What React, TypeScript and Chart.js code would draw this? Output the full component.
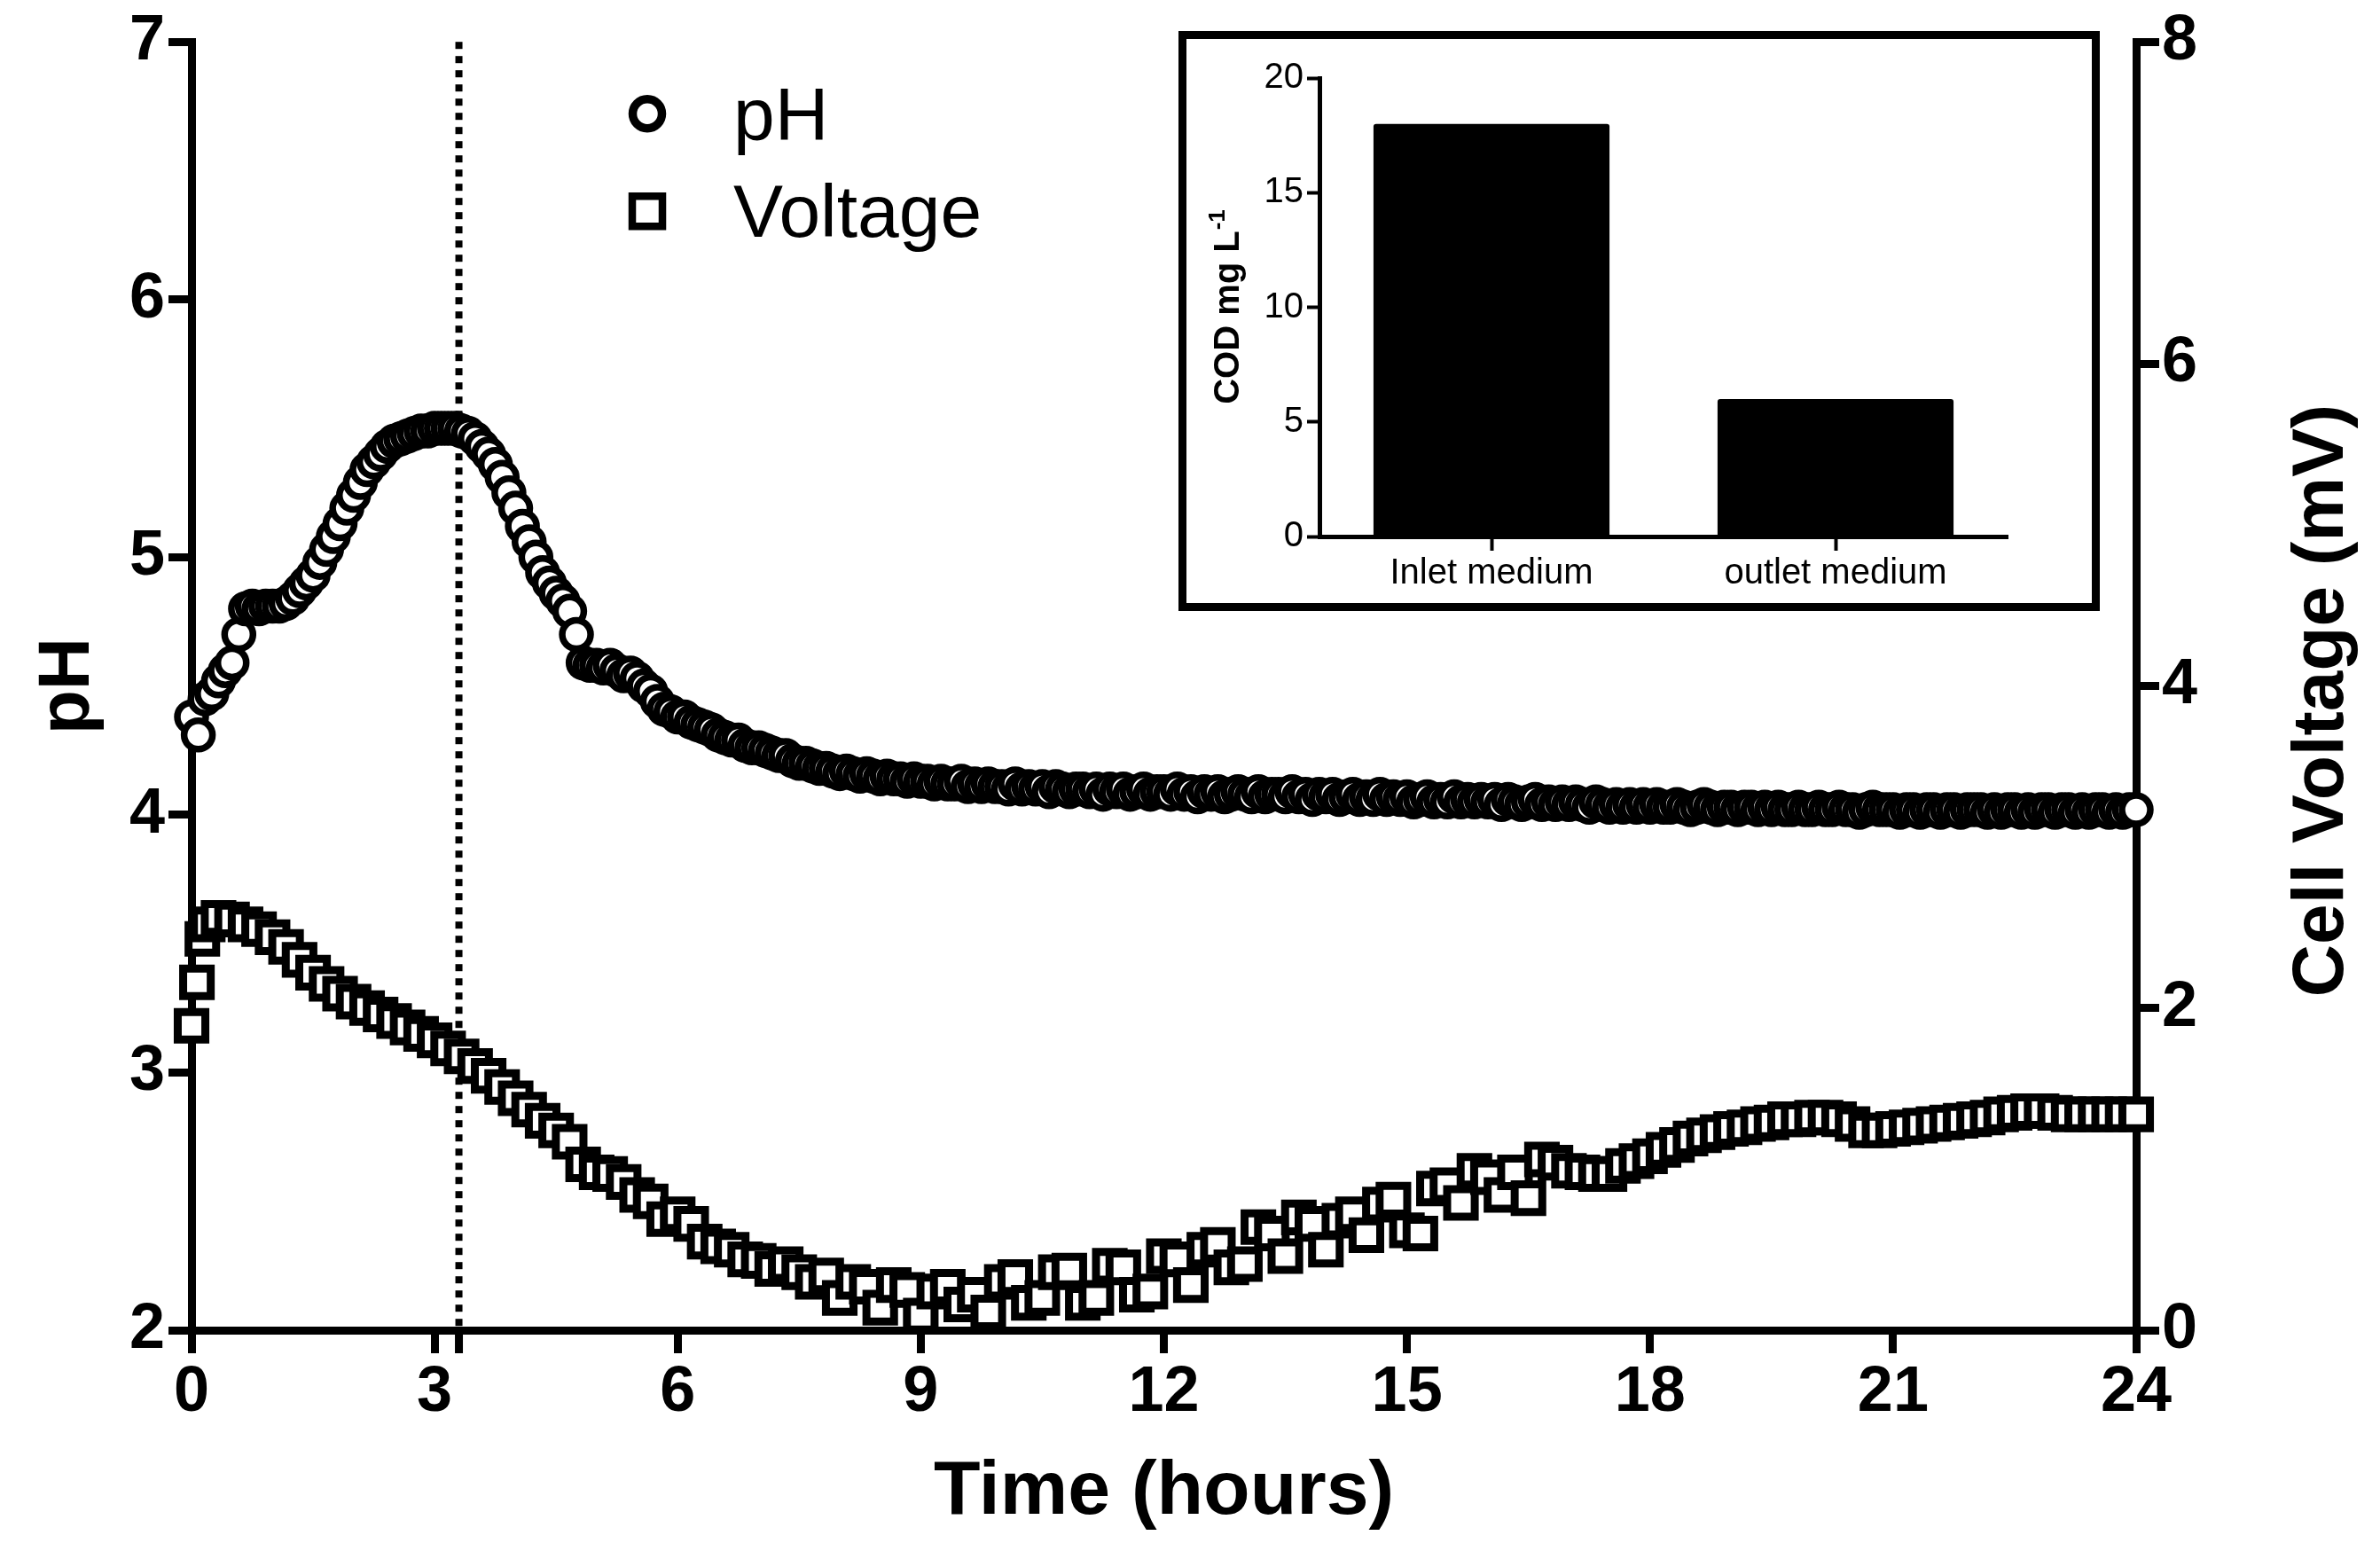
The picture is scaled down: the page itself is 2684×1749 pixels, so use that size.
import React, { useEffect, useRef } from "react";
import { Chart, registerables } from "chart.js";

Chart.register(...registerables);

// ---------------- DATA ----------------
// pH logged every 5 minutes (minutes since start)
const PH_TIME_MIN = [
  0, 5, 10, 15, 20, 25, 30, 35, 40, 45, 50, 55,
  60, 65, 70, 75, 80, 85, 90, 95, 100, 105, 110, 115,
  120, 125, 130, 135, 140, 145, 150, 155, 160, 165, 170, 175,
  180, 185, 190, 195, 200, 205, 210, 215, 220, 225, 230, 235,
  240, 245, 250, 255, 260, 265, 270, 275, 280, 285, 290, 295,
  300, 305, 310, 315, 320, 325, 330, 335, 340, 345, 350, 355,
  360, 365, 370, 375, 380, 385, 390, 395, 400, 405, 410, 415,
  420, 425, 430, 435, 440, 445, 450, 455, 460, 465, 470, 475,
  480, 485, 490, 495, 500, 505, 510, 515, 520, 525, 530, 535,
  540, 545, 550, 555, 560, 565, 570, 575, 580, 585, 590, 595,
  600, 605, 610, 615, 620, 625, 630, 635, 640, 645, 650, 655,
  660, 665, 670, 675, 680, 685, 690, 695, 700, 705, 710, 715,
  720, 725, 730, 735, 740, 745, 750, 755, 760, 765, 770, 775,
  780, 785, 790, 795, 800, 805, 810, 815, 820, 825, 830, 835,
  840, 845, 850, 855, 860, 865, 870, 875, 880, 885, 890, 895,
  900, 905, 910, 915, 920, 925, 930, 935, 940, 945, 950, 955,
  960, 965, 970, 975, 980, 985, 990, 995, 1000, 1005, 1010, 1015,
  1020, 1025, 1030, 1035, 1040, 1045, 1050, 1055, 1060, 1065, 1070, 1075,
  1080, 1085, 1090, 1095, 1100, 1105, 1110, 1115, 1120, 1125, 1130, 1135,
  1140, 1145, 1150, 1155, 1160, 1165, 1170, 1175, 1180, 1185, 1190, 1195,
  1200, 1205, 1210, 1215, 1220, 1225, 1230, 1235, 1240, 1245, 1250, 1255,
  1260, 1265, 1270, 1275, 1280, 1285, 1290, 1295, 1300, 1305, 1310, 1315,
  1320, 1325, 1330, 1335, 1340, 1345, 1350, 1355, 1360, 1365, 1370, 1375,
  1380, 1385, 1390, 1395, 1400, 1405, 1410, 1415, 1420, 1425, 1430, 1435,
  1440,
];

const PH = [
  4.38, 4.31, 4.45, 4.47, 4.52, 4.56, 4.59, 4.70, 4.80, 4.81, 4.80, 4.81,
  4.81, 4.81, 4.82, 4.84, 4.87, 4.90, 4.93, 4.98, 5.03, 5.08, 5.13, 5.19,
  5.24, 5.29, 5.34, 5.37, 5.40, 5.43, 5.45, 5.46, 5.47, 5.48, 5.49, 5.49,
  5.50, 5.50, 5.50, 5.50, 5.49, 5.48, 5.46, 5.43, 5.40, 5.36, 5.31, 5.25,
  5.19, 5.12, 5.06, 5.00, 4.94, 4.90, 4.86, 4.83, 4.79, 4.70, 4.59, 4.58,
  4.58, 4.57, 4.58, 4.56, 4.54, 4.55, 4.53, 4.50, 4.48, 4.44, 4.41, 4.40,
  4.38, 4.38, 4.36, 4.35, 4.34, 4.33, 4.31, 4.30, 4.29, 4.29, 4.27, 4.26,
  4.26, 4.25, 4.24, 4.23, 4.23, 4.21, 4.20, 4.20, 4.19, 4.18, 4.18, 4.17,
  4.16, 4.17, 4.16, 4.15, 4.16, 4.15, 4.14, 4.15, 4.14, 4.14, 4.13, 4.14,
  4.13, 4.13, 4.12, 4.13, 4.12, 4.12, 4.13, 4.11, 4.12, 4.11, 4.12, 4.11,
  4.11, 4.10, 4.12, 4.10, 4.11, 4.10, 4.11, 4.09, 4.11, 4.10, 4.09, 4.10,
  4.10, 4.09, 4.10, 4.08, 4.10, 4.09, 4.10, 4.08, 4.09, 4.10, 4.08, 4.09,
  4.09, 4.08, 4.10, 4.08, 4.09, 4.07, 4.09, 4.08, 4.09, 4.07, 4.08, 4.09,
  4.08, 4.07, 4.09, 4.07, 4.08, 4.08, 4.07, 4.09, 4.07, 4.08, 4.06, 4.08,
  4.07, 4.08, 4.06, 4.07, 4.08, 4.06, 4.07, 4.06, 4.08, 4.06, 4.07, 4.06,
  4.07, 4.05, 4.06, 4.07, 4.05, 4.06, 4.05, 4.07, 4.05, 4.06, 4.05, 4.06,
  4.05, 4.06, 4.04, 4.06, 4.05, 4.04, 4.05, 4.06, 4.04, 4.05, 4.04, 4.05,
  4.04, 4.05, 4.04, 4.03, 4.05, 4.04, 4.03, 4.04, 4.03, 4.04, 4.03, 4.04,
  4.03, 4.04, 4.03, 4.03, 4.04, 4.03, 4.02, 4.03, 4.04, 4.03, 4.02, 4.03,
  4.03, 4.02, 4.03, 4.03, 4.02, 4.03, 4.02, 4.03, 4.02, 4.02, 4.03, 4.02,
  4.02, 4.03, 4.02, 4.02, 4.03, 4.02, 4.02, 4.01, 4.02, 4.03, 4.02, 4.02,
  4.02, 4.01, 4.02, 4.02, 4.01, 4.02, 4.02, 4.01, 4.02, 4.02, 4.01, 4.02,
  4.02, 4.02, 4.01, 4.02, 4.01, 4.02, 4.02, 4.01, 4.02, 4.01, 4.02, 4.02,
  4.01, 4.02, 4.02, 4.01, 4.02, 4.01, 4.02, 4.02, 4.01, 4.02, 4.01, 4.02,
  4.02,
];

// Cell voltage logged every 10 minutes after a denser start (minutes since start)
const V_TIME_MIN = [
  0, 4, 8, 12,
  20, 30, 40, 50, 60, 70, 80, 90, 100, 110,
  120, 130, 140, 150, 160, 170, 180, 190, 200, 210,
  220, 230, 240, 250, 260, 270, 280, 290, 300, 310,
  320, 330, 340, 350, 360, 370, 380, 390, 400, 410,
  420, 430, 440, 450, 460, 470, 480, 490, 500, 510,
  520, 530, 540, 550, 560, 570, 580, 590, 600, 610,
  620, 630, 640, 650, 660, 670, 680, 690, 700, 710,
  720, 730, 740, 750, 760, 770, 780, 790, 800, 810,
  820, 830, 840, 850, 860, 870, 880, 890, 900, 910,
  920, 930, 940, 950, 960, 970, 980, 990, 1000, 1010,
  1020, 1030, 1040, 1050, 1060, 1070, 1080, 1090, 1100, 1110,
  1120, 1130, 1140, 1150, 1160, 1170, 1180, 1190, 1200, 1210,
  1220, 1230, 1240, 1250, 1260, 1270, 1280, 1290, 1300, 1310,
  1320, 1330, 1340, 1350, 1360, 1370, 1380, 1390, 1400, 1410,
  1420, 1430, 1440,
];

const VOLTAGE_MV = [
  1.89, 2.16, 2.43, 2.52,
  2.56, 2.55, 2.52, 2.49, 2.44, 2.38, 2.30, 2.22, 2.15, 2.09,
  2.04, 2.00, 1.96, 1.92, 1.88, 1.84, 1.80, 1.75, 1.70, 1.64,
  1.58, 1.51, 1.44, 1.37, 1.30, 1.24, 1.17, 1.03, 0.98, 0.97,
  0.92, 0.84, 0.80, 0.69, 0.72, 0.66, 0.55, 0.52, 0.50, 0.44,
  0.43, 0.38, 0.41, 0.36, 0.30, 0.34, 0.20, 0.30, 0.27, 0.14,
  0.28, 0.25, 0.09, 0.24, 0.27, 0.16, 0.22, 0.11, 0.30, 0.33,
  0.17, 0.20, 0.36, 0.37, 0.17, 0.20, 0.40, 0.39, 0.22, 0.24,
  0.46, 0.44, 0.28, 0.50, 0.53, 0.39, 0.41, 0.64, 0.60, 0.46,
  0.70, 0.66, 0.50, 0.68, 0.72, 0.59, 0.78, 0.81, 0.62, 0.60,
  0.88, 0.90, 0.79, 0.99, 0.95, 0.84, 0.98, 0.82, 1.06, 1.04,
  0.99, 0.98, 0.97, 0.97, 1.02, 1.05, 1.08, 1.12, 1.15, 1.19,
  1.21, 1.23, 1.25, 1.26, 1.28, 1.29, 1.31, 1.31, 1.32, 1.32,
  1.31, 1.28, 1.24, 1.24, 1.25, 1.26, 1.27, 1.28, 1.29, 1.30,
  1.31, 1.32, 1.34, 1.35, 1.36, 1.36, 1.35, 1.34, 1.34, 1.34,
  1.34, 1.34, 1.34,
];

const SERIES_LABELS = ["pH", "Voltage"];
const X_MIN = 0, X_MAX = 24, X_STEP = 3;
const PH_MIN = 2, PH_MAX = 7, PH_STEP = 1;
const V_MIN = 0, V_MAX = 8, V_STEP = 2;
const DOTTED_LINE_HOURS = 3.3;

const COD_CATEGORIES = ["Inlet medium", "outlet medium"];
const COD_VALUES = [18, 6];
const COD_MIN = 0, COD_MAX = 20, COD_STEP = 5;

// ---------------- LAYOUT / STYLE ----------------
const W = 2684, H = 1749;
const FONT = "'Liberation Sans', Arial, Helvetica, sans-serif";
const AXIS_W = 9;
const TICK_LEN = 26;

const mainDecor = {
  id: "mainDecor",
  beforeDatasetsDraw(chart: any) {
    const { ctx, chartArea, scales } = chart;
    const x = scales.x.getPixelForValue(DOTTED_LINE_HOURS);
    ctx.save();
    ctx.strokeStyle = "#000";
    ctx.lineWidth = 8;
    ctx.setLineDash([8, 8]);
    ctx.beginPath();
    ctx.moveTo(x, chartArea.top);
    ctx.lineTo(x, chartArea.bottom);
    ctx.stroke();
    ctx.setLineDash([]);
    ctx.lineWidth = AXIS_W;
    ctx.beginPath();
    ctx.moveTo(x, chartArea.bottom);
    ctx.lineTo(x, chartArea.bottom + TICK_LEN);
    ctx.stroke();
    ctx.restore();
  },
  afterDraw(chart: any) {
    const { ctx, chartArea } = chart;
    ctx.save();
    // right axis title (reads bottom to top)
    ctx.translate(chart.width - 65, 790);
    ctx.rotate(-Math.PI / 2);
    ctx.fillStyle = "#000";
    ctx.font = `bold 82px ${FONT}`;
    ctx.textAlign = "center";
    ctx.textBaseline = "middle";
    ctx.fillText("Cell Voltage (mV)", 0, 0);
    ctx.restore();

    // legend
    const mx = chartArea.left + 514;
    const rows = [chartArea.top + 81, chartArea.top + 191];
    ctx.save();
    ctx.strokeStyle = "#000";
    ctx.fillStyle = "#fff";
    ctx.lineWidth = 9.5;
    ctx.beginPath();
    ctx.arc(mx, rows[0], 16.5, 0, Math.PI * 2);
    ctx.fill();
    ctx.stroke();
    ctx.lineWidth = 8.5;
    ctx.beginPath();
    ctx.rect(mx - 17, rows[1] - 17, 34, 34);
    ctx.fill();
    ctx.stroke();
    ctx.fillStyle = "#000";
    ctx.font = `84px ${FONT}`;
    ctx.textAlign = "left";
    ctx.textBaseline = "alphabetic";
    ctx.fillText(SERIES_LABELS[0], chartArea.left + 611, rows[0] + 30);
    ctx.fillText(SERIES_LABELS[1], chartArea.left + 611, rows[1] + 29);
    ctx.restore();
  },
};

function MainChart() {
  const ref = useRef<HTMLCanvasElement | null>(null);
  useEffect(() => {
    const canvas = ref.current;
    if (!canvas) return;
    const phData = PH_TIME_MIN.map((m, i) => ({ x: m / 60, y: PH[i] }));
    const vData = V_TIME_MIN.map((m, i) => ({ x: m / 60, y: VOLTAGE_MV[i] }));
    const tickFont = { family: FONT, size: 72, weight: "bold" as const };
    const grid = {
      display: true,
      drawOnChartArea: false,
      drawTicks: true,
      tickLength: TICK_LEN,
      tickWidth: AXIS_W,
      tickColor: "#000",
      color: "#000",
      lineWidth: AXIS_W,
    };
    const border = { display: true, color: "#000", width: AXIS_W };
    const chart = new Chart(canvas, {
      type: "scatter",
      data: {
        datasets: [
          {
            label: SERIES_LABELS[0],
            data: phData,
            xAxisID: "x",
            yAxisID: "yPH",
            pointStyle: "circle",
            pointRadius: 16,
            pointBorderWidth: 7.5,
            pointBackgroundColor: "#fff",
            pointBorderColor: "#000",
            showLine: false,
            clip: false as any,
          },
          {
            label: SERIES_LABELS[1],
            data: vData,
            xAxisID: "x",
            yAxisID: "yV",
            pointStyle: "rect",
            pointRadius: 22,
            pointBorderWidth: 9,
            pointBackgroundColor: "#fff",
            pointBorderColor: "#000",
            showLine: false,
            clip: false as any,
          },
        ],
      },
      options: {
        animation: false,
        responsive: false,
        devicePixelRatio: 1,
        events: [],
        layout: { padding: { top: 46, left: 0, right: 0, bottom: 0 }, autoPadding: false },
        plugins: { legend: { display: false }, tooltip: { enabled: false } },
        scales: {
          x: {
            type: "linear",
            position: "bottom",
            min: X_MIN,
            max: X_MAX,
            ticks: { stepSize: X_STEP, font: tickFont, color: "#000", padding: 2, maxRotation: 0, autoSkip: false },
            grid,
            border,
            title: {
              display: true,
              text: "Time (hours)",
              color: "#000",
              font: { family: FONT, size: 86, weight: "bold" },
              padding: { top: 0, bottom: 14 },
            },
            afterFit: (s: any) => { s.height = 249; },
          },
          yPH: {
            type: "linear",
            position: "left",
            min: PH_MIN,
            max: PH_MAX,
            ticks: { stepSize: PH_STEP, font: tickFont, color: "#000", padding: 4 },
            grid,
            border,
            title: {
              display: true,
              text: "pH",
              color: "#000",
              font: { family: FONT, size: 82, weight: "bold" },
              padding: { top: 28, bottom: 0 },
            },
            afterFit: (s: any) => { s.width = 216; },
          },
          yV: {
            type: "linear",
            position: "right",
            min: V_MIN,
            max: V_MAX,
            ticks: { stepSize: V_STEP, font: tickFont, color: "#000", padding: 3 },
            grid,
            border,
            title: { display: false },
            afterFit: (s: any) => { s.width = 275; },
          },
        },
      } as any,
      plugins: [mainDecor],
    });
    return () => chart.destroy();
  }, []);
  return (
    <canvas
      ref={ref}
      width={W}
      height={H}
      style={{ position: "absolute", left: 0, top: 0, width: W, height: H }}
    />
  );
}

const codTitle = {
  id: "codTitle",
  afterDraw(chart: any) {
    const { ctx, chartArea } = chart;
    ctx.save();
    ctx.translate(45, (chartArea.top + chartArea.bottom) / 2);
    ctx.rotate(-Math.PI / 2);
    ctx.fillStyle = "#000";
    ctx.textBaseline = "alphabetic";
    ctx.textAlign = "left";
    const main = "COD mg L";
    const sup = "-1";
    ctx.font = `bold 40px ${FONT}`;
    const w1 = ctx.measureText(main).width;
    ctx.font = `bold 26px ${FONT}`;
    const w2 = ctx.measureText(sup).width;
    const start = -(w1 + w2) / 2;
    ctx.font = `bold 40px ${FONT}`;
    ctx.fillText(main, start, 14);
    ctx.font = `bold 26px ${FONT}`;
    ctx.fillText(sup, start + w1 + 1, -2);
    ctx.restore();
  },
};

const INSET_W = 1021, INSET_H = 636;

function InsetChart() {
  const ref = useRef<HTMLCanvasElement | null>(null);
  useEffect(() => {
    const canvas = ref.current;
    if (!canvas) return;
    const font = { family: FONT, size: 40 };
    const chart = new Chart(canvas, {
      type: "bar",
      data: {
        labels: COD_CATEGORIES,
        datasets: [
          {
            data: COD_VALUES,
            backgroundColor: "#000",
            borderWidth: 0,
            borderRadius: 3,
            barPercentage: 0.686,
            categoryPercentage: 1,
          },
        ],
      },
      options: {
        animation: false,
        responsive: false,
        devicePixelRatio: 1,
        events: [],
        layout: { padding: { top: 44, right: 95, left: 0, bottom: 0 }, autoPadding: false },
        plugins: { legend: { display: false }, tooltip: { enabled: false } },
        scales: {
          x: {
            grid: { offset: false, drawOnChartArea: false, tickLength: 16, tickWidth: 4, tickColor: "#000", color: "#000" },
            border: { display: true, color: "#000", width: 5 },
            ticks: { font, color: "#000", padding: 2, maxRotation: 0 },
            afterFit: (s: any) => { s.height = 75; },
          },
          y: {
            min: COD_MIN,
            max: COD_MAX,
            ticks: { stepSize: COD_STEP, font, color: "#000", padding: 4 },
            grid: { drawOnChartArea: false, tickLength: 14, tickWidth: 4, tickColor: "#000", color: "#000" },
            border: { display: true, color: "#000", width: 5 },
            afterFit: (s: any) => { s.width = 150; },
          },
        },
      } as any,
      plugins: [codTitle],
    });
    return () => chart.destroy();
  }, []);
  return (
    <div
      style={{
        position: "absolute",
        left: 1329,
        top: 35,
        width: 1039,
        height: 654,
        border: "9px solid #000",
        boxSizing: "border-box",
        background: "#fff",
      }}
    >
      <canvas
        ref={ref}
        width={INSET_W}
        height={INSET_H}
        style={{ display: "block", width: INSET_W, height: INSET_H }}
      />
    </div>
  );
}

export default function App() {
  useEffect(() => {
    document.body.style.margin = "0";
    document.body.style.overflow = "hidden";
  }, []);
  return (
    <div
      style={{
        position: "absolute",
        left: 0,
        top: 0,
        width: W,
        height: H,
        background: "#fff",
        overflow: "hidden",
      }}
    >
      <MainChart />
      <InsetChart />
    </div>
  );
}
